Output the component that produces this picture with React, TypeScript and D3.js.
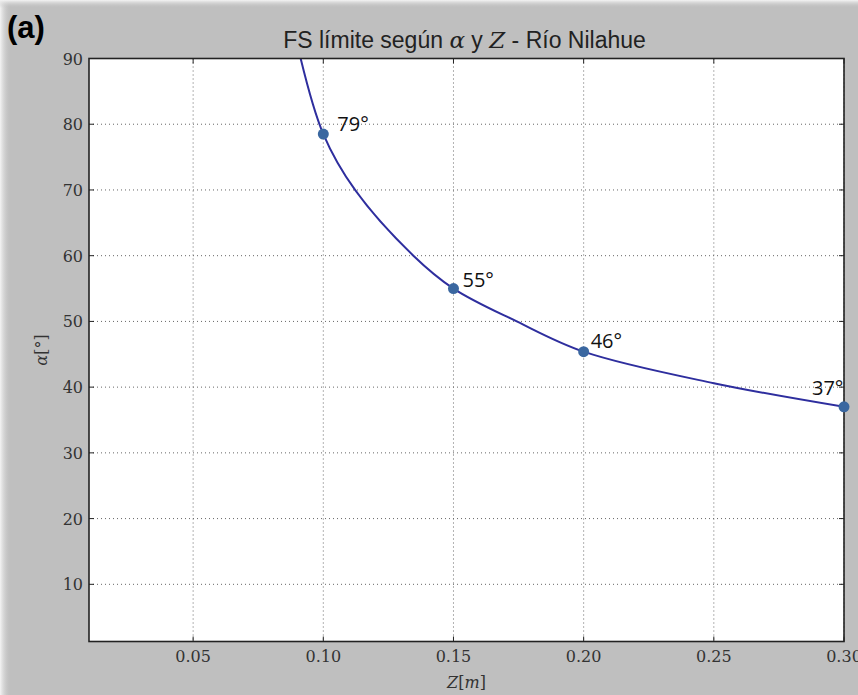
import React from "react";
import * as d3 from "d3";

const curveZ = [0.0913, 0.1, 0.1122, 0.1346, 0.15, 0.1743, 0.2, 0.25, 0.3];
const curveAlpha = [90, 78.5, 70.0, 60.0, 55, 50.0, 45.4, 40.6, 37.0];
const markerZ = [0.1, 0.15, 0.2, 0.3];
const markerAlpha = [78.5, 55, 45.4, 37.0];
const markerLabels = ["79°", "55°", "46°", "37°"];
const labelDx = [14, 9, 7, -32];
const labelDy = [-3, -2, -4, -12];
const xTicks = [0.05, 0.1, 0.15, 0.2, 0.25, 0.3];
const yTicks = [10, 20, 30, 40, 50, 60, 70, 80, 90];

const W = 858;
const H = 695;
const L = 89, R = 844, T = 58.5, B = 641.5;

export default function App() {
  const x = d3.scaleLinear().domain([0.01, 0.3]).range([L, R]);
  const y = d3.scaleLinear().domain([1.3, 90]).range([B, T]);
  const pts: [number, number][] = curveZ.map((z, i) => [z, curveAlpha[i]]);
  const line = d3
    .line<[number, number]>()
    .x((d) => x(d[0]))
    .y((d) => y(d[1]))
    .curve(d3.curveCatmullRom.alpha(0.5));
  const serif = "'DejaVu Serif', serif";
  return (
    <svg
      width={W}
      height={H}
      style={{ position: "absolute", left: 0, top: 0 }}
      viewBox={`0 0 ${W} ${H}`}
    >
      <defs>
        <linearGradient id="gl" x1="0" x2="1" y1="0" y2="0">
          <stop offset="0" stopColor="#f4f4f4" />
          <stop offset="1" stopColor="#bfbfbf" stopOpacity="0" />
        </linearGradient>
        <linearGradient id="gt" x1="0" x2="0" y1="0" y2="1">
          <stop offset="0" stopColor="#f4f4f4" />
          <stop offset="1" stopColor="#bfbfbf" stopOpacity="0" />
        </linearGradient>
        <clipPath id="plotclip">
          <rect x={L} y={T} width={R - L} height={B - T} />
        </clipPath>
      </defs>
      <rect x={0} y={0} width={W} height={H} fill="#bfbfbf" />
      <rect x={0} y={0} width={11} height={H} fill="url(#gl)" />
      <rect x={0} y={0} width={W} height={8} fill="url(#gt)" />
      <rect x={L} y={T} width={R - L} height={B - T} fill="#ffffff" />
      {/* grid */}
      {xTicks.map((t) => (
        <line key={"gx" + t} x1={x(t)} x2={x(t)} y1={T} y2={B} stroke="#666" strokeWidth={1} strokeDasharray="1,3" />
      ))}
      {yTicks.map((t) => (
        <line key={"gy" + t} x1={L} x2={R} y1={y(t)} y2={y(t)} stroke="#666" strokeWidth={1} strokeDasharray="1,3" />
      ))}
      {/* ticks */}
      {xTicks.map((t) => (
        <g key={"tx" + t}>
          <line x1={x(t)} x2={x(t)} y1={B} y2={B - 5} stroke="#222" strokeWidth={1} />
          <line x1={x(t)} x2={x(t)} y1={T} y2={T + 5} stroke="#222" strokeWidth={1} />
        </g>
      ))}
      {yTicks.map((t) => (
        <g key={"ty" + t}>
          <line x1={L} x2={L + 5} y1={y(t)} y2={y(t)} stroke="#222" strokeWidth={1} />
          <line x1={R} x2={R - 5} y1={y(t)} y2={y(t)} stroke="#222" strokeWidth={1} />
        </g>
      ))}
      {/* curve */}
      <g clipPath="url(#plotclip)">
        <path d={line(pts) || ""} fill="none" stroke="#2e2e9e" strokeWidth={2} />
      </g>
      <rect x={L} y={T} width={R - L} height={B - T} fill="none" stroke="#222" strokeWidth={1.6} />
      {markerZ.map((z, i) => (
        <circle key={"m" + i} cx={x(z)} cy={y(markerAlpha[i])} r={5.5} fill="#3a67a0" />
      ))}
      {markerZ.map((z, i) => (
        <text
          key={"l" + i}
          x={x(z) + labelDx[i]}
          y={y(markerAlpha[i]) + labelDy[i]}
          fontFamily="'Open Sans', 'Liberation Sans', sans-serif"
          fontSize={20}
          fill="#111"
        >
          {markerLabels[i]}
        </text>
      ))}
      {/* tick labels */}
      {xTicks.map((t) => (
        <text key={"xl" + t} x={x(t)} y={662} textAnchor="middle" fontFamily={serif} fontSize={16} fill="#333">
          {d3.format(".2f")(t)}
        </text>
      ))}
      {yTicks.map((t) => (
        <text key={"yl" + t} x={83} y={y(t) + 6} textAnchor="end" fontFamily={serif} fontSize={16} fill="#333">
          {t}
        </text>
      ))}
      {/* axis labels */}
      <text x={(L + R) / 2} y={688} textAnchor="middle" fontFamily={serif} fontStyle="italic" fontSize={16} fill="#333">
        Z<tspan fontStyle="normal">[</tspan>m<tspan fontStyle="normal">]</tspan>
      </text>
      <text
        transform={`translate(47, ${(T + B) / 2}) rotate(-90)`}
        textAnchor="middle"
        fontFamily={serif}
        fontStyle="italic"
        fontSize={16}
        fill="#333"
      >
        α<tspan fontStyle="normal">[°]</tspan>
      </text>
      {/* title */}
      <text x={(L + R) / 2 - 2} y={48} textAnchor="middle" fontFamily="'Liberation Sans', Arial, sans-serif" fontSize={23} fill="#222">
        FS límite según <tspan fontFamily={serif} fontStyle="italic">α</tspan> y{" "}
        <tspan fontFamily={serif} fontStyle="italic">Z</tspan> - Río Nilahue
      </text>
      {/* panel label */}
      <text x={7} y={38} fontFamily="'Liberation Sans', Arial, sans-serif" fontWeight="bold" fontSize={31} fill="#000">
        (a)
      </text>
    </svg>
  );
}
